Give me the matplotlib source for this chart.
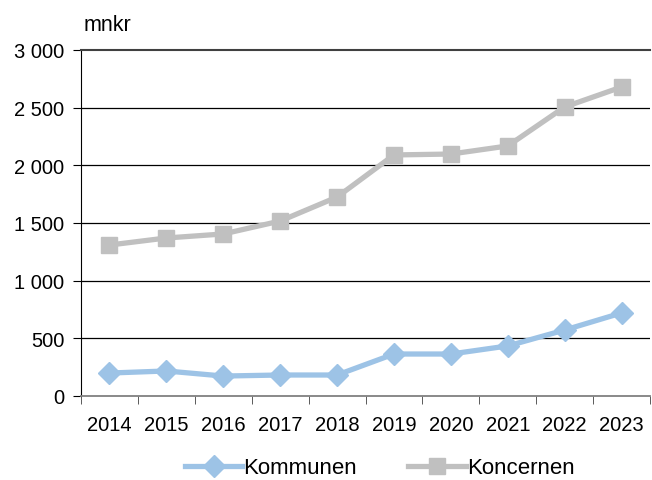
import matplotlib
matplotlib.use("Agg")
import matplotlib.pyplot as plt
import numpy as np

years = ["2014", "2015", "2016", "2017", "2018", "2019", "2020", "2021", "2022", "2023"]
kommunen = [199, 217, 173, 182, 182, 364, 364, 434, 572, 720]
koncernen = [1309, 1370, 1405, 1517, 1725, 2090, 2098, 2168, 2506, 2679]

plt.rcParams["font.family"] = ["Liberation Sans", "DejaVu Sans"]

fig = plt.figure(figsize=(6.52, 4.81), dpi=100)
ax = fig.add_axes([81 / 652, 1 - 397 / 481, 569 / 652, 346 / 481])

x = np.arange(len(years))
ax.plot(x, kommunen, color="#9DC3E6", lw=3.8, marker="D", ms=11, label="Kommunen", zorder=3)
ax.plot(x, koncernen, color="#C0C0C0", lw=3.8, marker="s", ms=11, label="Koncernen", zorder=3)

ax.set_xlim(-0.5, len(years) - 0.5)
ax.set_ylim(0, 3000)
yt = np.arange(0, 3001, 500)
ax.set_yticks(yt)
ax.set_yticklabels([f"{v:,}".replace(",", " ") for v in yt], fontsize=14.5)
ax.set_xticks(x)
ax.set_xticklabels(years, fontsize=14.5)
ax.set_xticks(np.arange(-0.5, len(years)), minor=True)
ax.tick_params(axis="x", which="major", length=0, pad=14)
ax.tick_params(axis="x", which="minor", length=6, color="#404040")
ax.tick_params(axis="y", length=6, pad=6)

for v in yt[1:-1]:
    ax.axhline(v, color="black", lw=0.9, zorder=1)
ax.spines["top"].set_color("#404040")
ax.spines["top"].set_linewidth(1.5)
ax.spines["right"].set_visible(False)
ax.spines["bottom"].set_color("#808080")
ax.spines["bottom"].set_linewidth(1.3)
ax.spines["left"].set_color("black")

ax.text(0.005, 1.075, "mnkr", fontsize=15.5, transform=ax.transAxes, ha="left", va="center")

ax.legend(loc="center", bbox_to_anchor=(0.525, -0.208), ncol=2, frameon=False,
          prop={"size": 16}, handlelength=2.6, handletextpad=0.05, columnspacing=2.3,
          borderpad=0.1)

fig.savefig("out.png", dpi=100)
